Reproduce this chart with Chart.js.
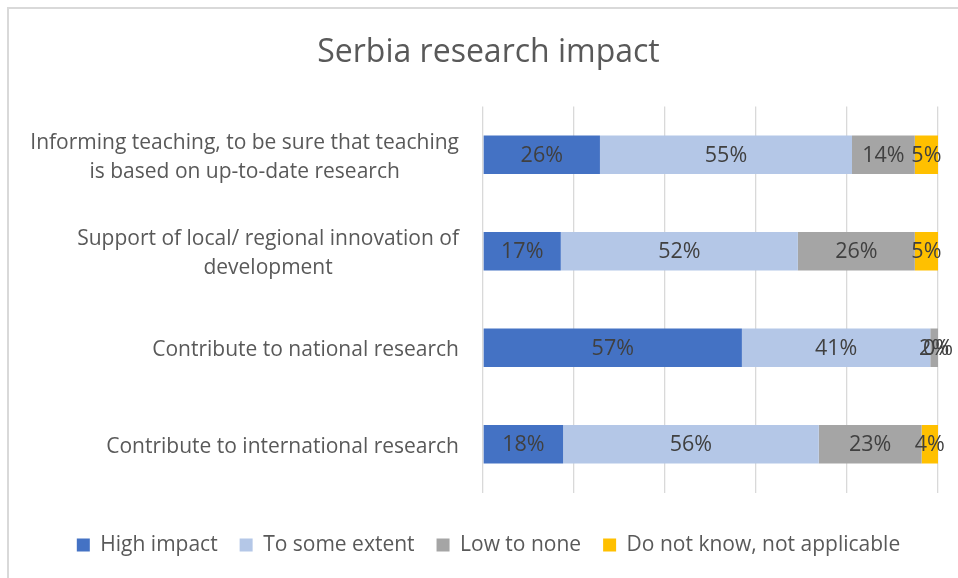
<!DOCTYPE html>
<html>
<head>
<meta charset="utf-8">
<script src="https://cdn.jsdelivr.net/npm/chart.js@4.4.1/dist/chart.umd.min.js"></script>
<style>
  html, body { margin: 0; padding: 0; background: #fff; overflow: hidden; }
  #frame { position: absolute; left: 7px; top: 7px; width: 1000px; height: 600px;
           border-left: 2px solid #d9d9d9; border-top: 2px solid #d9d9d9; }
  /* chart box is wider than the window, like the cropped original */
  #wrap { position: absolute; left: 0; top: 0; width: 977px; height: 578px; }
</style>
</head>
<body>
<div id="frame"></div>
<div id="wrap"><canvas id="impactChart"></canvas></div>
<script>
// Kategori (baris dari atas ke bawah), tiap label bisa multi-baris
const categories = [
    ['Informing teaching, to be sure that teaching', 'is based on up-to-date research'],
    ['Support of local/ regional innovation of', 'development'],
    ['Contribute to national research'],
    ['Contribute to international research']
];

// Nilai persentase per seri
const highImpact   = [25.7, 17.1, 56.9, 17.6];
const someExtent   = [55.4, 52.1, 41.4, 56.2];
const lowToNone    = [13.8, 25.7, 1.7, 22.6];
const doNotKnow    = [5.1, 5.1, 0, 3.6];

const seriesNames = ['High impact', 'To some extent', 'Low to none', 'Do not know, not applicable'];
const xTicks = [0, 20, 40, 60, 80, 100];

const FONT = "'Open Sans', sans-serif";
const TEXT = '#595959';

// Plugin kecil: label persen di tengah tiap batang
const barLabels = {
    id: 'barLabels',
    afterDatasetsDraw(chart) {
        const ctx = chart.ctx;
        ctx.save();
        ctx.font = '21.5px ' + FONT;
        ctx.fillStyle = '#404040';
        ctx.textAlign = 'center';
        ctx.textBaseline = 'middle';
        chart.data.datasets.forEach((ds, di) => {
            chart.getDatasetMeta(di).data.forEach((bar, i) => {
                const v = ds.data[i];
                ctx.fillText(Math.round(v) + '%', (bar.x + bar.base) / 2, bar.y + 1);
            });
        });
        ctx.restore();
    }
};

// Plugin kecil: label kategori ala Excel (blok rata kanan, baris rata tengah)
const catLabels = {
    id: 'catLabels',
    afterDraw(chart) {
        const ctx = chart.ctx;
        const y = chart.scales.y;
        const right = chart.chartArea.left - 24;
        const lh = 29;
        ctx.save();
        ctx.font = '21px ' + FONT;
        ctx.fillStyle = TEXT;
        ctx.textAlign = 'center';
        ctx.textBaseline = 'middle';
        categories.forEach((lines, i) => {
            const widest = Math.max(...lines.map(l => ctx.measureText(l).width));
            const cx = right - widest / 2;
            const cy = y.getPixelForTick(i) + 2.5;
            lines.forEach((l, k) => {
                ctx.fillText(l, cx, cy + (k - (lines.length - 1) / 2) * lh);
            });
        });
        ctx.restore();
    }
};

const colors = ['#4472C4', '#B4C7E7', '#A5A5A5', '#FFC000'];
const values = [highImpact, someExtent, lowToNone, doNotKnow];

new Chart(document.getElementById('impactChart'), {
    type: 'bar',
    data: {
        labels: categories.map(c => c.join(' ')),
        datasets: seriesNames.map((name, i) => ({
            label: name,
            data: values[i],
            backgroundColor: colors[i],
            borderWidth: 0,
            barPercentage: 0.4,
            categoryPercentage: 1
        }))
    },
    options: {
        indexAxis: 'y',
        responsive: true,
        maintainAspectRatio: false,
        animation: false,
        layout: { padding: { left: 0, right: 0, top: 0, bottom: 12.5 } },
        scales: {
            x: {
                stacked: true,
                min: 0,
                max: 100,
                afterBuildTicks: s => { s.ticks = xTicks.map(v => ({ value: v })); },
                ticks: { display: false },
                grid: { color: '#d9d9d9', lineWidth: 1.3, drawTicks: false },
                border: { display: false },
                afterFit: s => { s.height = 20; }
            },
            y: {
                stacked: true,
                ticks: { display: false },
                grid: { display: false, drawTicks: false },
                border: { display: false },
                afterFit: s => { s.width = 483; }
            },
            // ruang kosong di kanan area plot
            yRight: {
                axis: 'y',
                position: 'right',
                ticks: { display: false },
                grid: { display: false, drawTicks: false },
                border: { display: false },
                afterFit: s => { s.width = 39; }
            }
        },
        plugins: {
            title: {
                display: true,
                text: 'Serbia research impact',
                color: TEXT,
                font: { family: FONT, size: 32, weight: 'normal' },
                padding: { top: 33.8, bottom: 34.3 }
            },
            legend: {
                position: 'bottom',
                labels: {
                    color: TEXT,
                    font: { family: FONT, size: 21 },
                    boxWidth: 13,
                    boxHeight: 13,
                    padding: 22
                }
            },
            tooltip: { enabled: false }
        }
    },
    plugins: [barLabels, catLabels]
});
</script>
</body>
</html>
